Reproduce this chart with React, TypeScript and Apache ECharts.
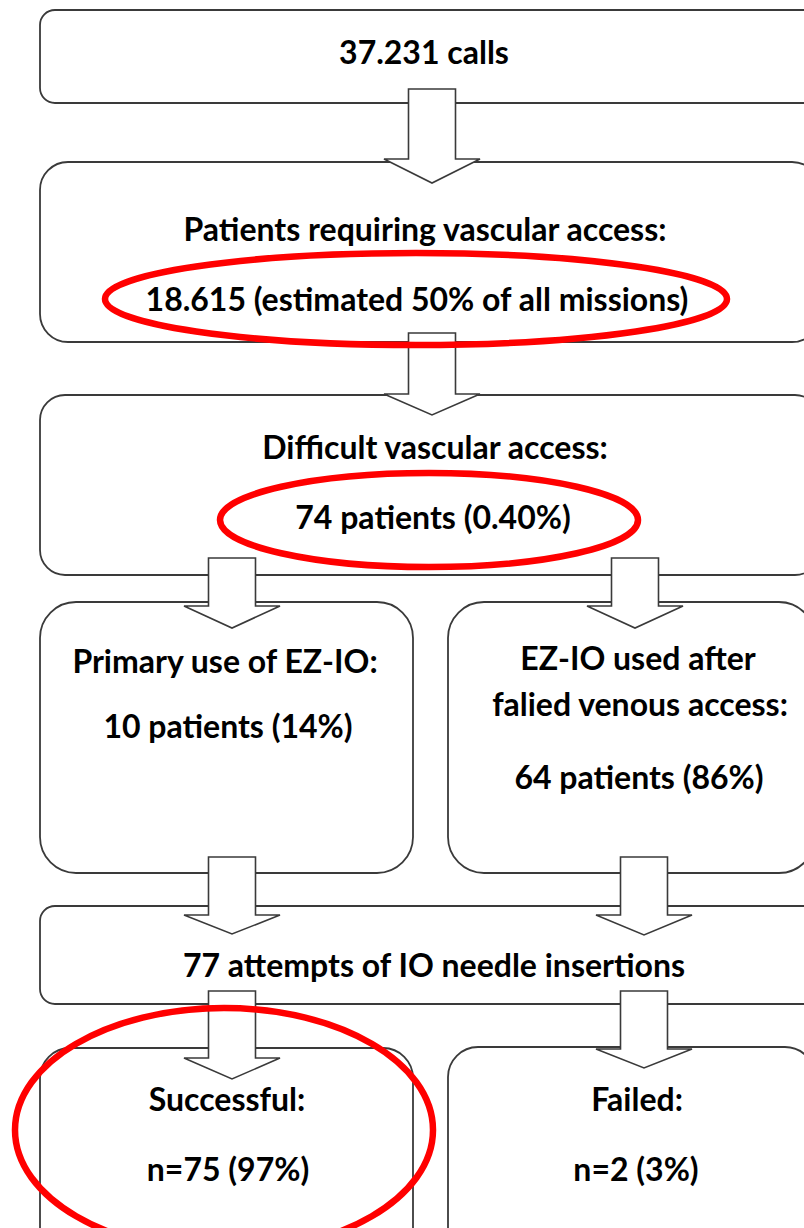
import React, { useEffect, useRef } from "react";
import * as echarts from "echarts";

// Flow-chart content (texts per box, line by line)
const callsLines = ["37.231 calls"];
const accessLines = ["Patients requiring vascular access:", "18.615 (estimated 50% of all missions)"];
const difficultLines = ["Difficult vascular access:", "74 patients (0.40%)"];
const primaryLines = ["Primary use of EZ-IO:", "10 patients (14%)"];
const afterLines = ["EZ-IO used after", "falied venous access:", "64 patients (86%)"];
const attemptsLines = ["77 attempts of IO needle insertions"];
const successLines = ["Successful:", "n=75 (97%)"];
const failedLines = ["Failed:", "n=2 (3%)"];

const W = 804;
const H = 1228;
const FONT = "Lato";
const FS = 32;
const STROKE = "#3a3a3a";
const RED = "#ff0000";

function box(x1: number, y1: number, x2: number, y2: number, r: number) {
  return {
    type: "rect",
    shape: { x: x1, y: y1, width: x2 - x1, height: y2 - y1, r },
    style: { fill: "#ffffff", stroke: STROKE, lineWidth: 1.8 },
    silent: true,
  };
}

function arrow(cx: number, top: number, headTop: number, tip: number) {
  const s = 23.5;
  const h = 48;
  return {
    type: "polygon",
    shape: {
      points: [
        [cx - s, top],
        [cx + s, top],
        [cx + s, headTop],
        [cx + h, headTop],
        [cx, tip],
        [cx - h, headTop],
        [cx - s, headTop],
      ],
    },
    style: { fill: "#ffffff", stroke: STROKE, lineWidth: 1.6 },
    silent: true,
  };
}

function label(text: string, x: number, y: number) {
  return {
    type: "text",
    x,
    y,
    style: {
      text,
      fill: "#000000",
      fontFamily: FONT,
      fontWeight: "bold",
      fontSize: FS,
      align: "center",
      verticalAlign: "middle",
    },
    silent: true,
  };
}

function ring(cx: number, cy: number, rx: number, ry: number) {
  return {
    type: "ellipse",
    shape: { cx, cy, rx, ry },
    style: { fill: "none", stroke: RED, lineWidth: 6.5 },
    silent: true,
  };
}

export default function App() {
  const ref = useRef<HTMLDivElement>(null);
  useEffect(() => {
    if (!ref.current) return;
    const chart = echarts.init(ref.current, undefined, { renderer: "svg", width: W, height: H });

    const elements: any[] = [
      box(40, 10, 830, 103, 15),
      box(40, 162, 820, 342, 28),
      box(40, 395, 820, 575, 25),
      box(40, 602, 413, 873, 36),
      box(448, 602, 815, 873, 36),
      box(40, 906, 830, 1004, 15),
      box(40, 1048, 413, 1290, 30),
      box(448, 1047, 815, 1290, 30),

      arrow(432, 89, 159, 183),
      arrow(432, 333, 394, 415),
      arrow(232, 558, 606, 628),
      arrow(635, 558, 606, 628),
      arrow(232, 857, 915, 934),
      arrow(644, 857, 915, 935),
      arrow(232, 991, 1058, 1079),
      arrow(644, 991, 1049, 1068),

      label(callsLines[0], 424, 51),
      label(accessLines[0], 425, 228),
      label(accessLines[1], 417, 298),
      label(difficultLines[0], 435, 446),
      label(difficultLines[1], 433, 516),
      label(primaryLines[0], 225, 660),
      label(primaryLines[1], 228, 725),
      label(afterLines[0], 638, 657),
      label(afterLines[1], 640, 703),
      label(afterLines[2], 639, 776),
      label(attemptsLines[0], 434, 964),
      label(successLines[0], 227, 1098),
      label(successLines[1], 228, 1168),
      label(failedLines[0], 637, 1098),
      label(failedLines[1], 636, 1168),

      ring(416, 299, 311, 46),
      ring(429, 520, 209, 47),
      ring(224, 1130, 209, 122),
    ];

    chart.setOption({
      animation: false,
      backgroundColor: "#ffffff",
      graphic: { elements },
    });
    return () => chart.dispose();
  }, []);

  return (
    <div
      ref={ref}
      style={{ position: "absolute", left: 0, top: 0, width: W, height: H, overflow: "hidden" }}
    />
  );
}
